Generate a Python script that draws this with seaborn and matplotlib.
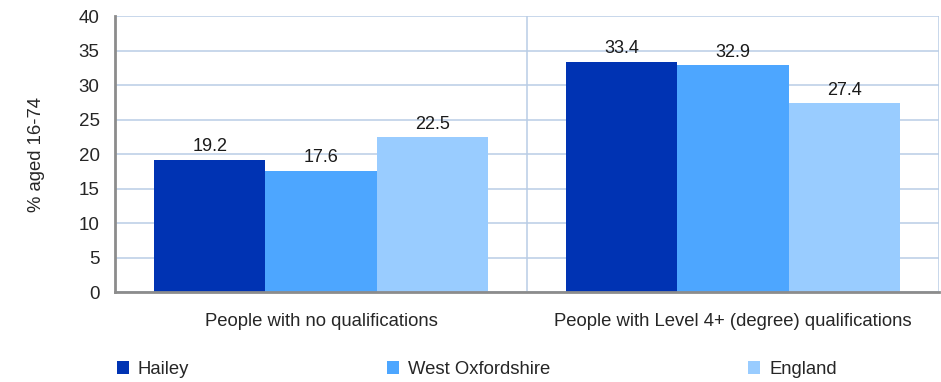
import pandas as pd
import matplotlib.pyplot as plt
import seaborn as sns

# data
categories = ["People with no qualifications", "People with Level 4+ (degree) qualifications"]
areas = ["Hailey", "West Oxfordshire", "England"]
hailey = [19.2, 33.4]
west_oxon = [17.6, 32.9]
england = [22.5, 27.4]

rows = []
for area, vals in zip(areas, [hailey, west_oxon, england]):
    for cat, v in zip(categories, vals):
        rows.append({"category": cat, "area": area, "value": v})
df = pd.DataFrame(rows)

sns.set_style("white")
plt.rcParams["font.family"] = ["Liberation Sans", "DejaVu Sans"]

colors = ["#0033B3", "#4DA6FF", "#99CCFF"]
grid_col = "#B9CDE5"
axis_col = "#8C8C8C"

fig, ax = plt.subplots(figsize=(9.41, 3.82), dpi=100)
fig.subplots_adjust(left=0.1222, right=0.9979, top=0.958, bottom=0.2356)

sns.barplot(data=df, x="category", y="value", hue="area", hue_order=areas,
            palette=colors, width=0.81, gap=0, saturation=1, linewidth=0,
            ax=ax, legend=True)

for cont in ax.containers:
    ax.bar_label(cont, fmt="%.1f", fontsize=13, padding=3, color="#1a1a1a")

ax.set_ylim(0, 40)
ax.set_yticks(range(0, 41, 5))
ax.set_xlim(-0.5, 1.5)
ax.set_axisbelow(True)
ax.yaxis.grid(True, color=grid_col, linewidth=1.1)
for xv in [0.5, 1.5]:
    ax.axvline(xv, color=grid_col, linewidth=1.1, zorder=0)

ax.set_xticks([-0.5, 0.5, 1.5], minor=True)
ax.tick_params(axis="x", which="major", length=0, labelsize=13.3, pad=15)
ax.tick_params(axis="x", which="minor", length=5, color=axis_col, width=1.5)
ax.tick_params(axis="y", length=5, color=axis_col, width=1.5, labelsize=13.5, pad=6)

for side in ["top", "right"]:
    ax.spines[side].set_visible(False)
for side in ["left", "bottom"]:
    ax.spines[side].set_color(axis_col)
    ax.spines[side].set_linewidth(2)

ax.set_xlabel("")
ax.set_ylabel("% aged 16-74", fontsize=13.3, labelpad=24)

handles, labels = ax.get_legend_handles_labels()
ax.get_legend().remove()
fig.legend(handles, labels, loc="center left", bbox_to_anchor=(0.116, 0.033), ncol=3,
           frameon=False, fontsize=13.3, handlelength=0.65, handleheight=0.65,
           handletextpad=0.5, columnspacing=10.7, borderaxespad=0)

plt.savefig("out.png", dpi=100)
